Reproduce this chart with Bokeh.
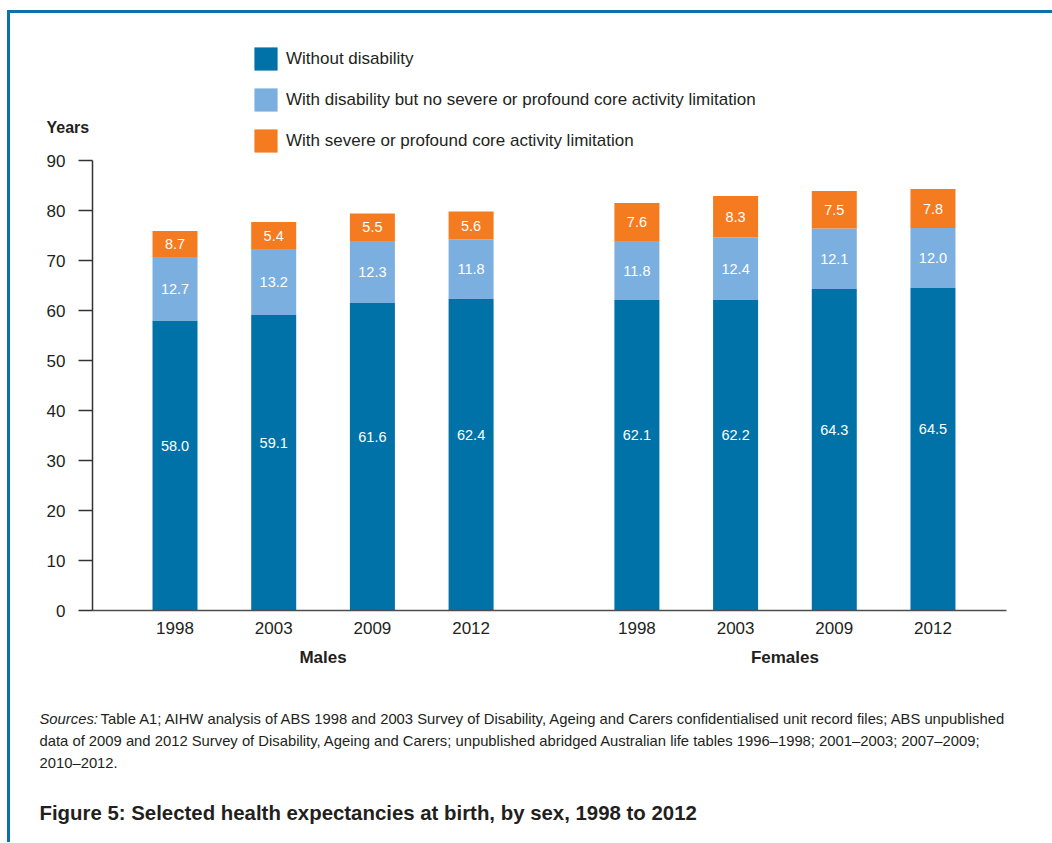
from bokeh.plotting import figure
from bokeh.models import (ColumnDataSource, Range1d, FixedTicker, LinearAxis,
                          Legend, LegendItem)
from bokeh.layouts import column
from bokeh.core.properties import value
from bokeh.embed import file_html
from bokeh.resources import INLINE

# ---------------- data ----------------
years = ["1998", "2003", "2009", "2012"]
sexes = ["Males", "Females"]
without_m = [58.0, 59.1, 61.6, 62.4]
without_f = [62.1, 62.2, 64.3, 64.5]
disab_m = [12.7, 13.2, 12.3, 11.8]
disab_f = [11.8, 12.4, 12.1, 12.0]
severe_m = [5.2, 5.4, 5.5, 5.6]                 # drawn heights
severe_f = [7.6, 8.3, 7.5, 7.8]
severe_m_labels = ["8.7", "5.4", "5.5", "5.6"]  # as printed in the source figure
severe_f_labels = ["7.6", "8.3", "7.5", "7.8"]
series_names = ["Without disability",
                "With disability but no severe or profound core activity limitation",
                "With severe or profound core activity limitation"]
y_ticks = [0, 10, 20, 30, 40, 50, 60, 70, 80, 90]
y_axis_title = "Years"
sources_label = "Sources:"
sources_lines = [
    "Table A1; AIHW analysis of ABS 1998 and 2003 Survey of Disability, Ageing and Carers confidentialised unit record files; ABS unpublished",
    "data of 2009 and 2012 Survey of Disability, Ageing and Carers; unpublished abridged Australian life tables 1996\u20131998; 2001\u20132003; 2007\u20132009;",
    "2010\u20132012.",
]
title_text = "Figure 5: Selected health expectancies at birth, by sex, 1998 to 2012"

# ---------------- styling ----------------
FONT = "Liberation Sans"
TXT = "#231f20"
C_DARK = "#0072a7"
C_LIGHT = "#7bafdf"
C_ORANGE = "#f47b20"
FRAME_C = "#0a72a8"
COLORS = [C_DARK, C_LIGHT, C_ORANGE]

GROUP_GAP = 4.68
BAR_W = 0.456
X0, X1 = -0.836, 8.425

# page geometry (content starts at page x=10, y=13 inside the CSS border)
PX0, PY0 = 10, 13
FULL_W = 1052 - PX0
T_H = 140          # page 13 .. 153
M_H = 537          # page 153 .. 690
B_H = 152          # page 690 .. 842


def no_align(f):
    if "frame_align" in f.properties():
        f.frame_align = False
    return f


def blank_fig(h, page_top):
    f = figure(width=FULL_W, height=h, output_backend="svg", toolbar_location=None,
               x_range=Range1d(PX0, PX0 + FULL_W),
               y_range=Range1d(page_top + h, page_top),
               x_axis_location=None, y_axis_location=None,
               min_border=0, min_border_left=0, min_border_right=0,
               min_border_top=0, min_border_bottom=0)
    f.outline_line_color = None
    f.xgrid.visible = False
    f.ygrid.visible = False
    return no_align(f)


# ---------------- bar data source ----------------
xs, without, disab, severe, sev_lab, wlab, dlab = [], [], [], [], [], [], []
for gi, (w, d, s, sl) in enumerate([(without_m, disab_m, severe_m, severe_m_labels),
                                   (without_f, disab_f, severe_f, severe_f_labels)]):
    for yi in range(len(years)):
        xs.append(round(gi * GROUP_GAP + yi, 2))
        without.append(w[yi]); disab.append(d[yi]); severe.append(s[yi])
        sev_lab.append(sl[yi])
        wlab.append(f"{w[yi]:.1f}"); dlab.append(f"{d[yi]:.1f}")

src = ColumnDataSource(dict(
    x=xs, without=without, disab=disab, severe=severe,
    y_w=[w / 2 + 4 for w in without],
    y_d=[w + d / 2 for w, d in zip(without, disab)],
    y_s=[w + d + s / 2 for w, d, s in zip(without, disab, severe)],
    t_w=wlab, t_d=dlab, t_s=sev_lab,
))

# ---------------- top: y title + legend ----------------
T = blank_fig(T_H, PY0)
T.text(x=[46], y=[127], text=[y_axis_title], text_font=value(FONT),
       text_font_size="16px", text_font_style="bold", text_color=TXT,
       text_align="left", text_baseline="middle")
items = []
for name, c, col in zip(series_names, COLORS, ["without", "disab", "severe"]):
    # legend proxies (hidden): same series, drawn in the chart below
    r = T.vbar(x="x", top=col, width=BAR_W, source=src, fill_color=c,
               line_color=None, visible=False)
    items.append(LegendItem(label=name, renderers=[r]))
# area legend glyphs are inset by 10% -> 29px box gives a ~23px swatch
lg = Legend(items=items, location=(241, -2), orientation="vertical",
            glyph_width=29, glyph_height=29, label_height=29, spacing=12,
            padding=0, margin=0, label_standoff=6, border_line_color=None,
            background_fill_alpha=0, inactive_fill_alpha=0, label_text_font=FONT,
            label_text_font_size="17px", label_text_color=TXT)
T.add_layout(lg, "center")

# ---------------- main chart ----------------
M = figure(width=FULL_W, height=M_H, output_backend="svg", toolbar_location=None,
           x_range=Range1d(X0, X1), y_range=Range1d(0, 90),
           min_border_left=82, min_border_right=46, min_border_top=7,
           min_border_bottom=M_H - 7 - 450)
no_align(M)
M.outline_line_color = None
M.xgrid.visible = False
M.ygrid.visible = False

M.vbar_stack(["without", "disab", "severe"], x="x", width=BAR_W, source=src,
             fill_color=COLORS, line_color=None)

for ycol, tcol in [("y_w", "t_w"), ("y_d", "t_d"), ("y_s", "t_s")]:
    M.text(x="x", y=ycol, text=tcol, source=src, text_align="center",
           text_baseline="middle", text_color="white",
           text_font=value(FONT), text_font_size="14.5px")

ya = M.yaxis[0]
ya.ticker = FixedTicker(ticks=y_ticks)
ya.axis_line_color = "#333333"
ya.axis_line_width = 1.5
ya.major_tick_line_color = "#333333"
ya.major_tick_line_width = 1.5
ya.major_tick_out = 14
ya.major_tick_in = 0
ya.minor_tick_line_color = None
ya.major_label_standoff = 13
ya.major_label_text_font = FONT
ya.major_label_text_font_size = "17px"
ya.major_label_text_color = TXT

xa = M.xaxis[0]
xa.ticker = FixedTicker(ticks=xs)
xa.major_label_overrides = {x: years[i % len(years)] for i, x in enumerate(xs)}
xa.axis_line_color = "#4d4d4d"
xa.axis_line_width = 1.5
xa.major_tick_line_color = None
xa.minor_tick_line_color = None
xa.major_tick_out = 0
xa.major_tick_in = 0
xa.major_label_standoff = 11
xa.major_label_text_font = FONT
xa.major_label_text_font_size = "17px"
xa.major_label_text_color = TXT

group_centers = []
for gi in range(len(sexes)):
    gx = xs[gi * len(years):(gi + 1) * len(years)]
    group_centers.append(round(sum(gx) / len(gx), 3))
ga = LinearAxis(ticker=FixedTicker(ticks=group_centers),
                major_label_overrides={c: s for c, s in zip(group_centers, sexes)})
ga.axis_line_color = None
ga.major_tick_line_color = None
ga.minor_tick_line_color = None
ga.major_tick_out = 0
ga.major_tick_in = 0
ga.major_label_standoff = 11
ga.major_label_text_font = FONT
ga.major_label_text_font_size = "17px"
ga.major_label_text_font_style = "bold"
ga.major_label_text_color = TXT
M.add_layout(ga, "below")

# ---------------- bottom: sources + title ----------------
B = blank_fig(B_H, PY0 + T_H + M_H)
B.text(x=[39], y=[718], text=[sources_label], text_font=value(FONT),
       text_font_size="14.8px", text_font_style="italic", text_color=TXT,
       text_align="left", text_baseline="middle")
B.text(x=[100, 39, 39], y=[718, 740, 762], text=sources_lines, text_font=value(FONT),
       text_font_size="14.8px", text_color=TXT, text_align="left",
       text_baseline="middle")
B.text(x=[39], y=[812], text=[title_text], text_font=value(FONT),
       text_font_size="20.4px", text_font_style="bold", text_color=TXT,
       text_align="left", text_baseline="middle")

layout = column(T, M, B, spacing=0,
                styles={"margin-left": "7px", "margin-top": "10px",
                        "border-top": f"3px solid {FRAME_C}",
                        "border-left": f"3px solid {FRAME_C}"})

open("out.html", "w").write(file_html(layout, INLINE))
